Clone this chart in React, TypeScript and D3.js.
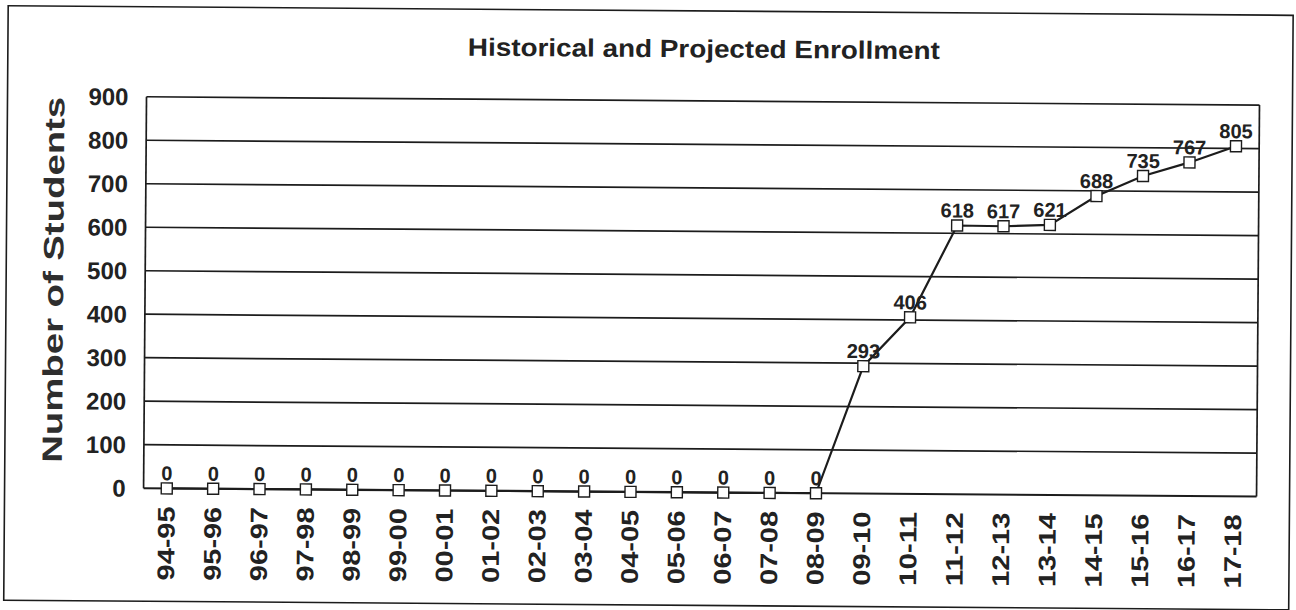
import React from "react";
import * as d3 from "d3";

const years = [
  "94-95", "95-96", "96-97", "97-98", "98-99", "99-00", "00-01", "01-02",
  "02-03", "03-04", "04-05", "05-06", "06-07", "07-08", "08-09", "09-10",
  "10-11", "11-12", "12-13", "13-14", "14-15", "15-16", "16-17", "17-18",
];
const students = [
  0, 0, 0, 0, 0, 0, 0, 0, 0, 0, 0, 0, 0, 0, 0, 293, 406, 618, 617, 621, 688,
  735, 767, 805,
];
const yTicks = [0, 100, 200, 300, 400, 500, 600, 700, 800, 900];

const W = 1296;
const H = 610;
// plot box before the scan tilt is applied
const plot = { left: 145, top: 100.5, right: 1258, bottom: 492 };
const font = "Arial, 'Liberation Sans', sans-serif";
const ink = "#1c1c1c";
// the scanned page is a little crooked
const tilt = 0.43;

export default function App() {
  const x = d3
    .scalePoint<string>()
    .domain(years)
    .range([plot.left, plot.right])
    .padding(0.5);
  const y = d3.scaleLinear().domain([0, 900]).range([plot.bottom, plot.top]);

  const line = d3
    .line<number>()
    .x((_, i) => x(years[i])!)
    .y((d) => y(d));

  return (
    <svg
      width={W}
      height={H}
      style={{ position: "absolute", left: 0, top: 0, background: "#fff" }}
      fontFamily={font}
    >
      <g transform={`rotate(${tilt},648,300)`}>
        {/* outer frame */}
        <rect x={6} y={10.5} width={1285} height={594.5} fill="none" stroke={ink} strokeWidth={1.6} />

        <text
          x={702}
          y={57}
          textAnchor="middle"
          fontSize={25}
          fontWeight="bold"
          fill="#222"
          textLength={472}
          lengthAdjust="spacingAndGlyphs"
        >
          Historical and Projected Enrollment
        </text>

        <text
          transform={`translate(63,${(plot.top + plot.bottom) / 2 - 12}) rotate(-90)`}
          textAnchor="middle"
          fontSize={28}
          fontWeight="bold"
          fill="#2e2e2e"
          textLength={366}
          lengthAdjust="spacingAndGlyphs"
        >
          Number of Students
        </text>

        {/* gridlines */}
        {yTicks.map((t) => (
          <g key={t}>
            <line
              x1={plot.left}
              x2={plot.right}
              y1={y(t)}
              y2={y(t)}
              stroke={ink}
              strokeWidth={t === 0 ? 2 : 1.7}
            />
            <text
              x={plot.left - 18}
              y={y(t)}
              dy="0.36em"
              textAnchor="end"
              fontSize={24}
              fontWeight="bold"
              fill="#222"
            >
              {t}
            </text>
          </g>
        ))}
        <line x1={plot.left} x2={plot.left} y1={plot.top} y2={plot.bottom} stroke={ink} strokeWidth={1.7} />
        <line x1={plot.right} x2={plot.right} y1={plot.top} y2={plot.bottom} stroke={ink} strokeWidth={1.7} />

        {/* x labels */}
        {years.map((yr) => (
          <text
            key={yr}
            transform={`translate(${x(yr)! + 8},${plot.bottom + 18}) rotate(-90)`}
            textAnchor="end"
            fontSize={24}
            fontWeight="bold"
            fill="#222"
            textLength={74}
            lengthAdjust="spacingAndGlyphs"
          >
            {yr}
          </text>
        ))}

        <path d={line(students) ?? ""} fill="none" stroke={ink} strokeWidth={2.2} />

        {students.map((v, i) => (
          <g key={years[i]}>
            <rect
              x={x(years[i])! - 5.5}
              y={y(v) - 5.5}
              width={11}
              height={11}
              fill="#fff"
              stroke={ink}
              strokeWidth={1.4}
            />
            <text
              x={x(years[i])!}
              y={y(v) - 8}
              textAnchor="middle"
              fontSize={20}
              fontWeight="bold"
              fill="#222"
            >
              {v}
            </text>
          </g>
        ))}
      </g>
    </svg>
  );
}
